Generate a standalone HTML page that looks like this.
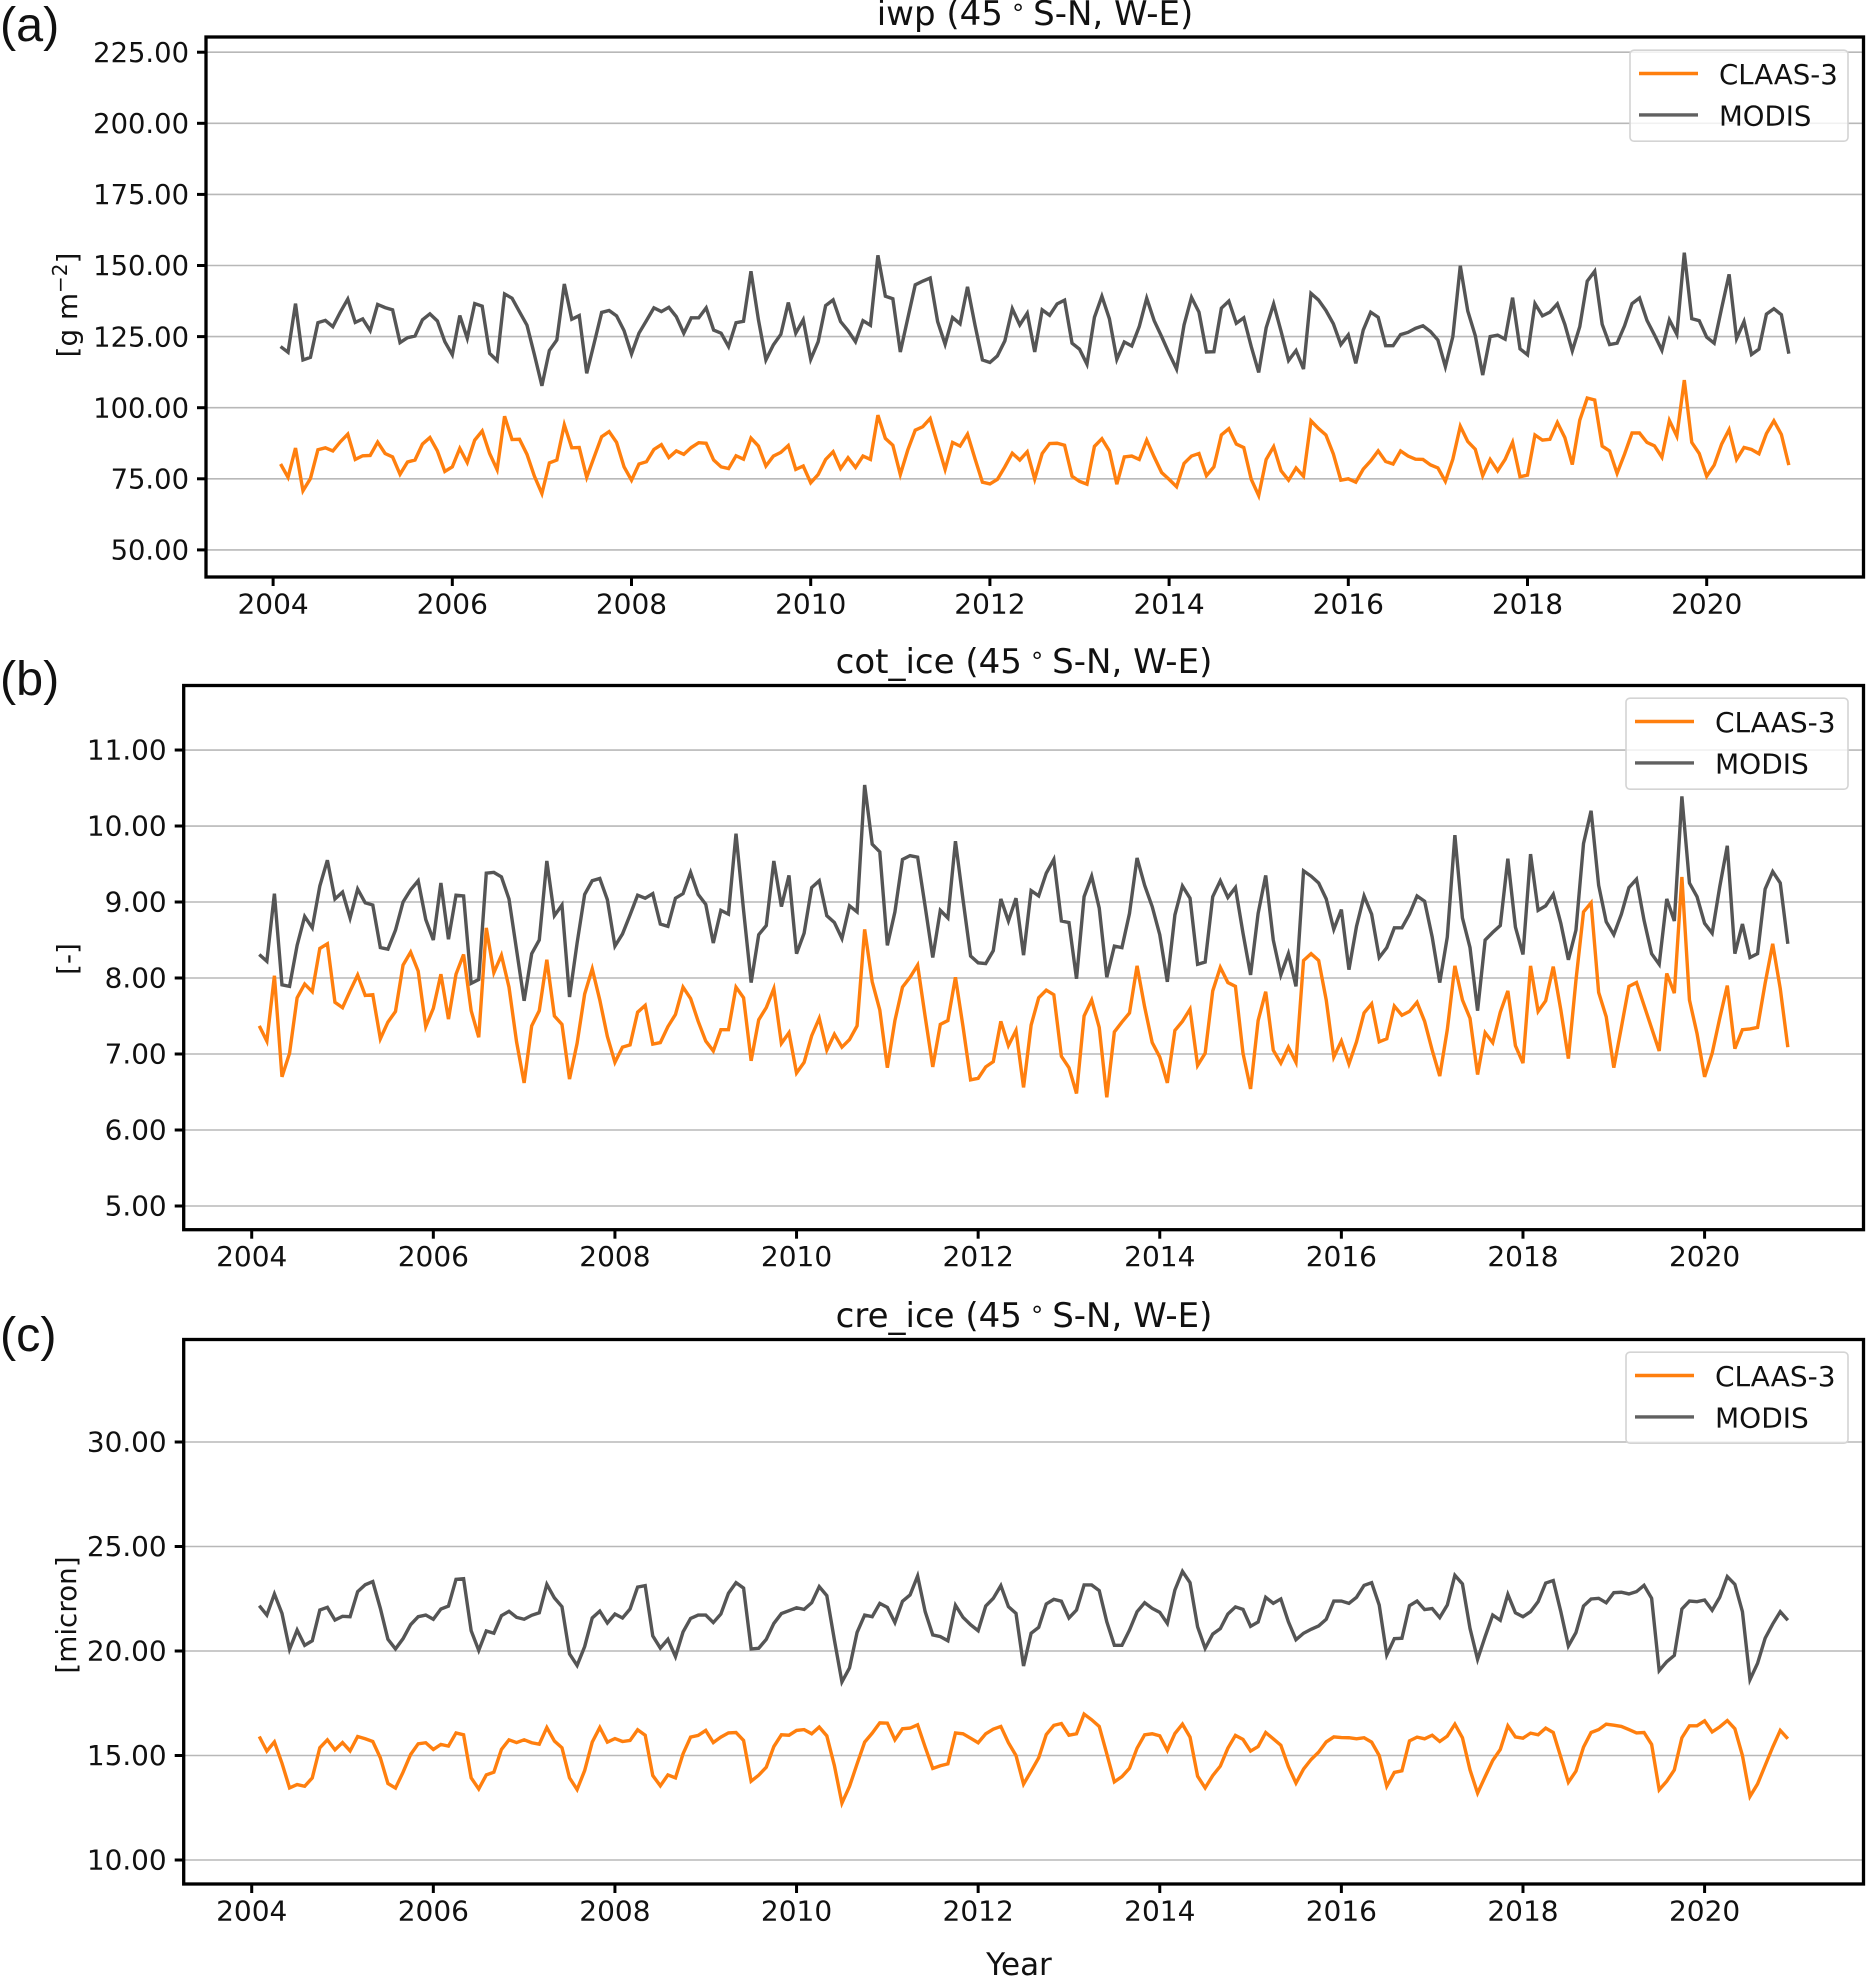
<!DOCTYPE html>
<html lang="en">
<head>
<meta charset="utf-8">
<title>CLAAS-3 vs MODIS ice cloud time series</title>
<style>
html,body{margin:0;padding:0;background:#fff;}
svg{display:block;}
text{font-family:"DejaVu Sans",sans-serif;fill:#111;}
.panel-letter{font-family:"Liberation Sans",sans-serif;font-size:48.5px;}
.title{font-size:34px;text-anchor:middle;}
.axis-label{font-size:27.8px;text-anchor:middle;}
.year-label{font-size:31px;text-anchor:middle;}
</style>
</head>
<body>
<svg id="figure" xmlns="http://www.w3.org/2000/svg" width="1866" height="1978" viewBox="0 0 1866 1978">
  <rect width="1866" height="1978" fill="#fff"/>
  <g id="panel-a"></g>
  <g id="panel-b"></g>
  <g id="panel-c"></g>

  <text class="panel-letter" x="0" y="41">(a)</text>
  <text class="panel-letter" x="0" y="695">(b)</text>
  <text class="panel-letter" x="0" y="1351">(c)</text>

  <text class="title" x="1035" y="25">iwp (45<tspan font-size="24" dy="-10"> ∘ </tspan><tspan dy="10">S-N, W-E)</tspan></text>
  <text class="title" x="1024" y="673">cot_ice (45<tspan font-size="24" dy="-10"> ∘ </tspan><tspan dy="10">S-N, W-E)</tspan></text>
  <text class="title" x="1024" y="1327">cre_ice (45<tspan font-size="24" dy="-10"> ∘ </tspan><tspan dy="10">S-N, W-E)</tspan></text>

  <text class="axis-label" transform="translate(77,305) rotate(-90)">[g m<tspan font-size="20" dy="-10">−2</tspan><tspan dy="10">]</tspan></text>
  <text class="axis-label" transform="translate(77,959) rotate(-90)">[-]</text>
  <text class="axis-label" transform="translate(76,1615) rotate(-90)">[micron]</text>
  <text class="year-label" x="1019" y="1975">Year</text>
</svg>
<script>
const startYear = 2004;
const startMonth = 2;
const xTickYears = [2004,2006,2008,2010,2012,2014,2016,2018,2020];
const legendLabels = ['CLAAS-3','MODIS'];

const iwpTicks = [50,75,100,125,150,175,200,225];
const cotTicks = [5,6,7,8,9,10,11];
const creTicks = [10,15,20,25,30];

const iwpModis = [121.5,119.5,136.6,116.8,117.7,129.9,130.7,128.5,133.6,138.2,130.0,131.2,127.1,136.3,135.2,134.4,122.9,124.6,125.2,130.9,
133.0,130.5,123.2,118.6,132.4,124.4,136.6,135.7,119.1,116.6,140.0,138.5,133.7,129.0,118.6,107.7,120.1,123.8,143.5,131.1,
132.4,112.1,122.7,133.5,134.2,132.3,127.1,118.9,126.2,130.6,135.1,133.8,135.3,132.0,126.2,131.6,131.6,135.1,127.3,126.2,
121.5,129.9,130.4,148.0,130.9,116.8,122.1,125.8,137.0,126.2,130.9,117.0,123.2,135.9,137.9,130.3,127.1,123.2,130.6,129.0,
153.6,139.2,138.3,119.6,131.4,143.2,144.5,145.6,130.3,122.3,131.7,129.5,142.5,129.1,116.8,115.9,118.2,123.5,134.8,129.1,
133.2,119.6,134.4,132.5,136.5,137.8,122.7,120.6,115.3,131.8,139.2,131.3,117.0,123.1,121.7,128.5,138.5,130.6,125.0,119.1,
113.6,129.1,138.8,133.6,119.6,119.7,135.0,137.5,129.7,131.6,121.5,112.4,128.1,136.5,126.8,116.6,120.1,113.6,140.2,137.9,
134.2,129.5,122.2,125.6,115.6,127.3,133.6,131.8,121.8,121.8,125.7,126.5,127.9,128.8,126.8,123.8,114.4,125.0,149.9,134.0,
125.4,111.5,125.0,125.5,124.1,138.7,120.7,118.6,136.6,132.3,133.6,136.5,129.3,120.0,128.5,144.5,148.0,129.3,122.2,122.7,
128.8,136.6,138.6,130.7,125.6,120.2,130.9,125.8,154.5,131.3,130.6,124.8,122.7,135.0,146.9,124.3,130.3,118.7,120.6,132.9,
134.8,132.7,119.0];

const iwpClaas = [80.2,75.5,85.8,70.8,75.1,85.2,85.9,84.8,88.0,90.7,81.8,83.1,83.2,87.9,83.9,82.7,76.6,80.9,81.6,87.2,
89.5,84.8,77.6,79.2,85.7,80.7,88.6,91.8,83.9,78.2,97.0,88.8,88.9,83.6,75.9,69.8,80.6,81.6,94.0,85.9,
86.0,75.5,82.7,89.8,91.6,87.8,79.2,74.5,80.2,81.0,85.3,87.0,82.5,84.8,83.6,86.0,87.7,87.5,81.6,79.2,
78.6,83.1,81.9,89.3,86.5,79.5,83.0,84.3,86.7,78.3,79.5,73.6,76.5,81.8,84.5,78.6,82.4,79.0,83.0,81.8,
97.4,89.2,86.8,76.5,85.1,92.1,93.3,96.2,87.2,78.3,87.8,86.5,90.7,82.1,73.8,73.2,74.8,79.2,84.0,81.6,
84.5,74.9,83.9,87.4,87.5,86.8,75.9,74.1,73.1,86.4,89.1,84.8,73.1,82.7,83.0,81.8,88.6,82.7,77.2,74.8,
72.2,80.4,83.0,83.9,76.1,79.2,90.4,92.6,87.2,86.0,74.8,69.1,81.8,86.3,77.8,74.5,78.8,75.9,95.4,92.7,
90.4,83.7,74.5,75.0,73.8,78.4,81.3,84.8,81.1,80.2,84.8,83.0,81.9,81.8,79.9,78.8,74.1,81.9,93.5,88.1,
85.4,76.1,81.8,77.8,81.8,87.8,75.7,76.3,90.4,88.6,88.9,94.8,89.5,80.0,95.6,103.4,102.7,86.5,84.8,76.9,
83.7,91.1,91.1,87.8,86.6,82.6,95.5,90.0,109.7,87.8,83.9,75.9,79.8,87.2,92.3,81.8,86.0,85.3,83.8,90.9,
95.4,90.6,79.8];

const cotModis = [8.31,8.22,9.11,7.91,7.89,8.43,8.81,8.66,9.21,9.55,9.04,9.13,8.79,9.17,8.99,8.96,8.40,8.38,8.63,9.00,
9.16,9.28,8.77,8.50,9.25,8.51,9.09,9.08,7.93,7.98,9.38,9.39,9.33,9.04,8.37,7.70,8.32,8.50,9.54,8.82,
8.96,7.75,8.46,9.10,9.28,9.31,9.03,8.42,8.58,8.83,9.09,9.05,9.11,8.71,8.68,9.05,9.11,9.39,9.10,8.97,
8.46,8.89,8.84,9.90,8.89,7.94,8.57,8.69,9.54,8.94,9.35,8.32,8.59,9.19,9.28,8.82,8.73,8.52,8.95,8.87,
10.54,9.76,9.66,8.43,8.87,9.56,9.61,9.59,8.94,8.27,8.89,8.79,9.80,9.03,8.29,8.20,8.19,8.36,9.04,8.75,
9.05,8.30,9.15,9.08,9.38,9.56,8.75,8.73,7.99,9.07,9.34,8.92,8.01,8.42,8.40,8.85,9.58,9.22,8.94,8.57,
7.95,8.83,9.21,9.05,8.18,8.21,9.07,9.28,9.06,9.19,8.59,8.04,8.85,9.35,8.50,8.04,8.32,7.89,9.41,9.34,
9.25,9.04,8.64,8.90,8.11,8.68,9.08,8.84,8.27,8.40,8.66,8.66,8.84,9.08,9.01,8.54,7.94,8.54,9.88,8.79,
8.40,7.57,8.50,8.60,8.69,9.57,8.67,8.31,9.63,8.89,8.95,9.10,8.72,8.24,8.63,9.77,10.20,9.22,8.74,8.57,
8.84,9.19,9.30,8.76,8.32,8.18,9.04,8.75,10.39,9.25,9.07,8.72,8.59,9.20,9.74,8.32,8.71,8.27,8.32,9.17,
9.40,9.25,8.45];

const cotClaas = [7.37,7.17,8.03,6.70,7.01,7.74,7.92,7.82,8.39,8.45,7.68,7.61,7.83,8.04,7.77,7.78,7.20,7.42,7.56,8.17,
8.34,8.09,7.36,7.60,8.05,7.46,8.05,8.31,7.57,7.22,8.66,8.07,8.30,7.88,7.16,6.62,7.37,7.57,8.24,7.50,
7.39,6.67,7.14,7.79,8.12,7.71,7.23,6.89,7.09,7.12,7.55,7.64,7.13,7.15,7.36,7.52,7.88,7.73,7.43,7.17,
7.04,7.32,7.32,7.88,7.74,6.91,7.45,7.61,7.86,7.14,7.28,6.75,6.89,7.24,7.47,7.05,7.26,7.09,7.19,7.37,
8.64,7.95,7.58,6.82,7.44,7.88,8.01,8.17,7.49,6.83,7.39,7.44,8.01,7.36,6.66,6.68,6.83,6.90,7.43,7.11,
7.31,6.56,7.38,7.74,7.84,7.78,6.97,6.82,6.48,7.50,7.71,7.35,6.43,7.29,7.42,7.54,8.16,7.62,7.15,6.96,
6.62,7.31,7.43,7.59,6.85,7.01,7.83,8.14,7.94,7.89,7.01,6.54,7.44,7.82,7.05,6.88,7.09,6.89,8.23,8.32,
8.23,7.71,6.96,7.17,6.87,7.16,7.54,7.66,7.16,7.20,7.63,7.51,7.56,7.68,7.43,7.05,6.71,7.32,8.16,7.71,
7.47,6.73,7.28,7.15,7.55,7.83,7.11,6.88,8.16,7.56,7.70,8.15,7.58,6.94,7.97,8.87,8.99,7.81,7.49,6.82,
7.35,7.89,7.94,7.64,7.34,7.04,8.06,7.80,9.33,7.71,7.27,6.70,7.01,7.47,7.90,7.07,7.32,7.33,7.35,7.93,
8.45,7.86,7.09];

const creModis = [22.17,21.72,22.73,21.80,20.08,21.00,20.27,20.49,21.96,22.09,21.48,21.66,21.64,22.84,23.17,23.32,22.04,20.56,20.10,20.59,
21.26,21.64,21.72,21.52,22.01,22.15,23.43,23.46,20.97,20.03,20.96,20.85,21.69,21.90,21.61,21.52,21.71,21.83,23.19,22.54,
22.12,19.86,19.31,20.21,21.58,21.91,21.34,21.77,21.58,22.01,23.06,23.13,20.72,20.14,20.56,19.73,20.91,21.56,21.72,21.72,
21.36,21.77,22.76,23.27,23.01,20.10,20.13,20.56,21.32,21.79,21.93,22.07,21.99,22.31,23.08,22.65,20.53,18.52,19.19,20.89,
21.72,21.64,22.28,22.09,21.36,22.38,22.68,23.59,21.88,20.77,20.69,20.49,22.19,21.61,21.26,20.97,22.15,22.52,23.13,22.12,
21.80,19.28,20.85,21.13,22.25,22.47,22.38,21.58,21.96,23.16,23.16,22.89,21.40,20.27,20.27,21.00,21.88,22.31,22.04,21.85,
21.32,22.92,23.81,23.27,21.16,20.13,20.81,21.07,21.77,22.11,21.99,21.18,21.39,22.57,22.28,22.49,21.40,20.54,20.85,21.04,
21.20,21.52,22.39,22.39,22.28,22.57,23.14,23.27,22.20,19.81,20.59,20.61,22.17,22.39,21.98,22.03,21.60,22.20,23.62,23.21,
21.08,19.60,20.69,21.72,21.47,22.71,21.83,21.64,21.88,22.36,23.25,23.37,21.88,20.24,20.88,22.15,22.49,22.52,22.31,22.79,
22.81,22.73,22.84,23.14,22.52,19.06,19.49,19.79,22.01,22.39,22.36,22.44,21.95,22.57,23.56,23.19,21.88,18.63,19.41,20.61,
21.29,21.88,21.47];

const creClaas = [15.91,15.21,15.65,14.63,13.45,13.61,13.53,13.93,15.37,15.75,15.27,15.62,15.22,15.91,15.80,15.67,14.89,13.66,13.44,14.20,
15.05,15.56,15.61,15.29,15.53,15.45,16.08,15.99,13.93,13.40,14.07,14.20,15.29,15.75,15.62,15.75,15.61,15.54,16.34,15.69,
15.37,13.93,13.37,14.28,15.64,16.34,15.64,15.81,15.67,15.72,16.23,15.97,14.04,13.55,14.07,13.93,15.08,15.88,15.96,16.20,
15.62,15.88,16.08,16.10,15.72,13.77,14.06,14.44,15.43,15.99,15.97,16.20,16.24,16.04,16.36,15.94,14.52,12.72,13.52,14.60,
15.64,16.07,16.56,16.55,15.75,16.28,16.31,16.47,15.40,14.38,14.51,14.60,16.08,16.04,15.83,15.61,16.04,16.26,16.39,15.61,
15.00,13.63,14.25,14.89,16.00,16.44,16.53,15.97,16.04,16.98,16.71,16.39,15.08,13.74,13.99,14.39,15.35,15.99,16.04,15.94,
15.24,16.05,16.50,15.88,14.01,13.45,14.04,14.49,15.35,15.96,15.77,15.21,15.43,16.10,15.80,15.49,14.47,13.68,14.35,14.81,
15.16,15.65,15.89,15.86,15.85,15.80,15.85,15.64,15.00,13.53,14.19,14.27,15.70,15.88,15.80,15.97,15.67,15.93,16.50,15.85,
14.31,13.20,13.99,14.76,15.29,16.42,15.89,15.83,16.07,15.99,16.31,16.10,14.92,13.72,14.25,15.40,16.10,16.24,16.50,16.45,
16.39,16.24,16.08,16.10,15.53,13.36,13.77,14.31,15.85,16.42,16.42,16.66,16.13,16.37,16.67,16.28,15.00,13.04,13.64,14.52,
15.40,16.20,15.80];

const NS = 'http://www.w3.org/2000/svg';
const ORANGE = '#ff7f0e';
const GREY = '#555555';

function make(tag, attrs, parent) {
  const node = document.createElementNS(NS, tag);
  for (const key in attrs) node.setAttribute(key, attrs[key]);
  parent.appendChild(node);
  return node;
}

function drawPanel(id, box, xlim, ylim, yTicks, claas, modis) {
  const root = document.getElementById(id);
  const xAt = function (year) {
    return box.left + (year - xlim[0]) / (xlim[1] - xlim[0]) * (box.right - box.left);
  };
  const yAt = function (value) {
    return box.bottom - (value - ylim[0]) / (ylim[1] - ylim[0]) * (box.bottom - box.top);
  };
  const pointsFor = function (series) {
    return series.map(function (value, i) {
      const year = startYear + (startMonth - 1 + i) / 12;
      return xAt(year).toFixed(2) + ',' + yAt(value).toFixed(2);
    }).join(' ');
  };

  yTicks.forEach(function (tick) {
    const y = yAt(tick);
    const grid = make('line', {x1: box.left, x2: box.right, y1: y, y2: y, stroke: '#b8b8b8', 'stroke-width': 1.6}, root);
    
    
    const mark = make('line', {x1: box.left - 9, x2: box.left, y1: y, y2: y, stroke: '#000', 'stroke-width': 3}, root);
    
    
    const label = make('text', {x: box.left - 17, y: y + 9.7, 'text-anchor': 'end', 'font-size': box.yFont}, root);
    
    
    label.textContent = tick.toFixed(2);
  });

  xTickYears.forEach(function (year) {
    const x = xAt(year);
    const mark = make('line', {x1: x, x2: x, y1: box.bottom, y2: box.bottom + 9, stroke: '#000', 'stroke-width': 3}, root);
    
    
    const label = make('text', {x: x, y: box.bottom + 36.5, 'text-anchor': 'middle', 'font-size': 28}, root);
    
    
    label.textContent = String(year);
  });

  const modisLine = make('polyline', {points: pointsFor(modis), fill: 'none', stroke: GREY, 'stroke-width': 3.4, 'stroke-linejoin': 'miter', 'stroke-miterlimit': 4}, root);
  
  
  const claasLine = make('polyline', {points: pointsFor(claas), fill: 'none', stroke: ORANGE, 'stroke-width': 3.4, 'stroke-linejoin': 'miter', 'stroke-miterlimit': 4}, root);
  
  

  const frame = make('rect', {x: box.left, y: box.top, width: box.right - box.left, height: box.bottom - box.top, fill: 'none', stroke: '#000', 'stroke-width': 3.3}, root);
  
  

  const legendRight = box.right - 15.5;
  const legendTop = box.top + box.legendInset;
  const legendLeft = legendRight - box.legendWidth;
  const legend = make('g', {}, root);
  
  
  const legendBox = make('rect', {x: legendLeft, y: legendTop, width: box.legendWidth, height: 91, rx: 4, ry: 4, fill: 'rgba(255,255,255,0.8)', stroke: '#d4d4d4', 'stroke-width': 1.6}, legend);
  
  
  legendLabels.forEach(function (name, i) {
    const y = legendTop + 23.3 + i * 41.4;
    const swatch = make('line', {x1: legendLeft + 9, x2: legendLeft + 68, y1: y, y2: y, stroke: i === 0 ? ORANGE : '#606060', 'stroke-width': 3.4}, legend);
    
    
    const text = make('text', {x: legendLeft + 89, y: y + 10.5, 'font-size': box.legendFont}, legend);
    
    
    text.textContent = name;
  });
}

drawPanel('panel-a', {left: 206, right: 1863.5, top: 37, bottom: 577, yFont: 27.4, legendWidth: 218, legendFont: 27.6, legendInset: 13.2}, [2003.251, 2021.75], [40.47, 230.35], iwpTicks, iwpClaas, iwpModis);
drawPanel('panel-b', {left: 183.7, right: 1863.5, top: 685.5, bottom: 1229.7, yFont: 27.9, legendWidth: 222, legendFont: 28, legendInset: 12.7}, [2003.251, 2021.75], [4.688, 11.849], cotTicks, cotClaas, cotModis);
drawPanel('panel-c', {left: 183.7, right: 1863.5, top: 1339.5, bottom: 1884, yFont: 27.9, legendWidth: 222, legendFont: 28, legendInset: 12.7}, [2003.251, 2021.75], [8.852, 34.904], creTicks, creClaas, creModis);
</script>
</body>
</html>
